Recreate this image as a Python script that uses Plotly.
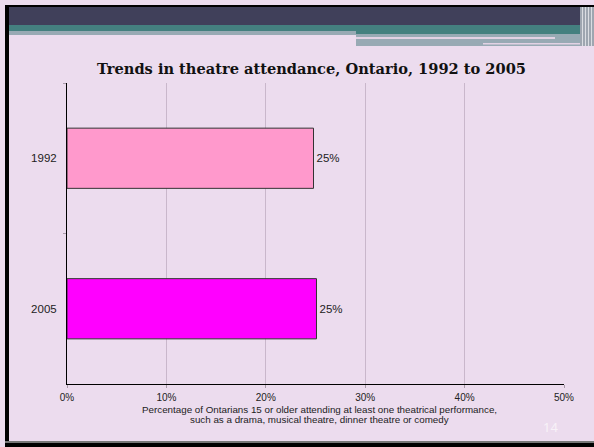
import plotly.graph_objects as go

# ---- data ----
years = ["1992", "2005"]
attendance = [24.8, 25.1]
value_labels = ["25%", "25%"]
bar_colors = ["#FF99CC", "#FF00FF"]
x_ticks = [0, 10, 20, 30, 40, 50]
x_tick_labels = ["0%", "10%", "20%", "30%", "40%", "50%"]

title_text = "Trends in theatre attendance, Ontario, 1992 to 2005"
axis_title_1 = "Percentage of Ontarians 15 or older attending at least one theatrical performance,"
axis_title_2 = "such as a drama, musical theatre, dinner theatre or comedy"
page_number = "14"

W, H = 594, 447
L, R, T, B = 67, 30, 83, 63
PW, PH = W - L - R, H - T - B


def px(x):
    return (x - L) / PW


def py(y):
    return (H - B - y) / PH


BG = "#ECDCEE"

fig = go.Figure()
fig.add_trace(go.Bar(
    y=years, x=attendance, orientation="h",
    marker=dict(color=bar_colors, line=dict(color="#333333", width=1)),
    width=0.4,
    text=value_labels, textposition="outside",
    textfont=dict(family="Liberation Sans, Arial", size=11.5, color="#222222"),
    cliponaxis=False,
    hoverinfo="skip",
))

shapes = []


def rect(x0, y0, x1, y1, color):
    shapes.append(dict(type="rect", xref="paper", yref="paper",
                       x0=px(x0), x1=px(x1), y0=py(y1), y1=py(y0),
                       fillcolor=color, line=dict(width=0), layer="below"))


# header bands
rect(5, 5, W, 7, "#000000")
rect(8, 7, W, 25, "#40405A")
rect(8, 25, W, 31, "#44807F")
rect(8, 31, 356, 35, "#98AAB4")
rect(356, 31, W, 34, "#44807F")
rect(356, 34, W, 46, "#98AAB4")
rect(356, 37, 555, 39, "#E2D2E4")
rect(483, 43, 588, 44.5, "#E2D2E4")
# right texture
rect(580, 7, W, 46, "#9EA6B0")
for xx in [582, 585, 588, 591]:
    rect(xx, 7, xx + 1, 46, "#DADDE2")
# borders
rect(5, 5, 9, H, "#000000")
rect(5, 441, W, 443, "#777777")
rect(5, 443, W, H, "#000000")

annotations = [
    dict(text=f"<b>{title_text}</b>", x=px(311.5), y=py(68), xref="paper", yref="paper",
         showarrow=False, xanchor="center", yanchor="middle",
         font=dict(family="DejaVu Serif", size=14.6, color="#111111")),
    dict(text=axis_title_1, x=px(319), y=py(409), xref="paper", yref="paper",
         showarrow=False, xanchor="center", yanchor="middle",
         font=dict(family="Liberation Sans, Arial", size=9.8, color="#222222")),
    dict(text=axis_title_2, x=px(319), y=py(420), xref="paper", yref="paper",
         showarrow=False, xanchor="center", yanchor="middle",
         font=dict(family="Liberation Sans, Arial", size=9.8, color="#222222")),
    dict(text=page_number, x=px(550), y=py(427), xref="paper", yref="paper",
         showarrow=False, xanchor="center", yanchor="middle",
         font=dict(family="Noto Sans", size=13, color="#F8F2F8")),
]

fig.update_layout(
    width=W, height=H,
    margin=dict(l=L, r=R, t=T, b=B, pad=0),
    paper_bgcolor=BG, plot_bgcolor=BG,
    showlegend=False,
    shapes=shapes,
    annotations=annotations,
    bargap=0.6,
)
fig.update_xaxes(
    range=[0, 50], tickvals=x_ticks, ticktext=x_tick_labels,
    showgrid=True, gridcolor="#C9B7CB", gridwidth=1,
    zeroline=False, showline=True, linecolor="#000000", linewidth=1,
    ticks="outside", ticklen=3, tickcolor="#A89AA8",
    tickfont=dict(family="Liberation Sans, Arial", size=10, color="#222222"),
    ticklabelstandoff=1,
    fixedrange=True,
)
fig.update_yaxes(
    categoryorder="array", categoryarray=years, autorange="reversed",
    showgrid=False, showline=True, linecolor="#000000", linewidth=1,
    ticks="outside", tickson="boundaries", ticklen=3, tickcolor="#A89AA8",
    tickfont=dict(family="Liberation Sans, Arial", size=11.5, color="#222222"),
    ticklabelstandoff=7,
    fixedrange=True,
)

fig.write_html(
    "out.html",
    config={"displayModeBar": False},
    post_script="document.body.style.margin='0';document.body.style.background='" + BG + "';",
)
